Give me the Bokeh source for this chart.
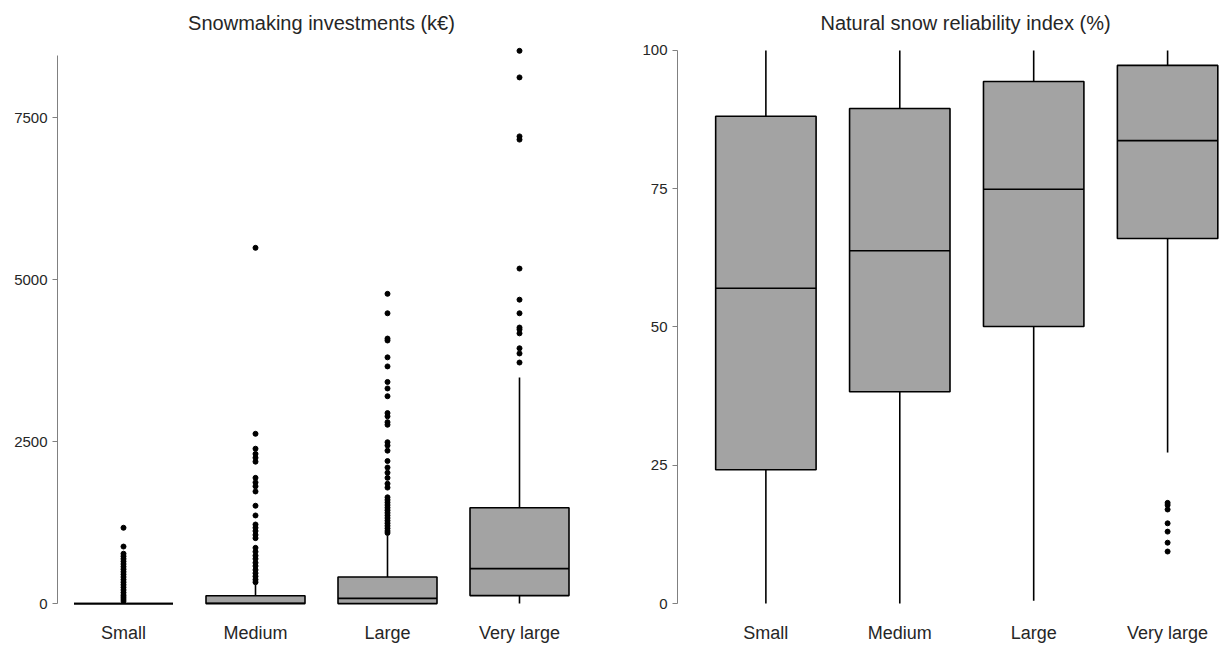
from bokeh.plotting import figure
from bokeh.models import Range1d, FixedTicker, Title
from bokeh.layouts import row
from bokeh.embed import file_html
from bokeh.resources import INLINE

# ---------------- data ----------------
categories = ["Small", "Medium", "Large", "Very large"]

# Snowmaking investments (k€)
inv_lo = [0, 0, 0, 0]
inv_q1 = [0, 0, 0, 123]
inv_med = [0, 5, 80, 540]
inv_q3 = [0, 120, 410, 1480]
inv_hi = [0, 290, 1050, 3490]
inv_out_small = [1170, 880, 770, 730, 690, 650, 610, 570, 530, 490, 450, 410,
                 370, 330, 290, 250, 210, 170, 130, 100, 70, 40]
inv_out_medium = [5490, 2620, 2390, 2310, 2250, 2190, 1940, 1870, 1810, 1730,
                  1510, 1360, 1220, 1170, 1120, 1060, 1010, 860, 800, 740, 690,
                  630, 580, 520, 470, 420, 370, 330]
inv_out_large = [4780, 4480, 4090, 4060, 3800, 3660, 3420, 3320, 3200, 2940,
                 2890, 2800, 2760, 2490, 2440, 2360, 2200, 2100, 2020, 1940,
                 1850, 1790, 1640, 1600, 1560, 1520, 1480, 1440, 1400, 1360,
                 1320, 1280, 1240, 1200, 1160, 1120, 1090]
inv_out_vlarge = [8530, 8120, 7210, 7160, 5170, 4690, 4480, 4260, 4230, 4170,
                  3940, 3860, 3720]
inv_ticks = [0, 2500, 5000, 7500]

# Natural snow reliability index (%)
rel_lo = [0, 0, 0.5, 27.3]
rel_q1 = [24.2, 38.3, 50.1, 66.0]
rel_med = [57.0, 63.8, 74.9, 83.7]
rel_q3 = [88.1, 89.5, 94.4, 97.3]
rel_hi = [100, 100, 100, 100]
rel_out_small = []
rel_out_medium = []
rel_out_large = []
rel_out_vlarge = [18.2, 17.8, 17.0, 14.5, 13.0, 11.0, 9.4]
rel_ticks = [0, 25, 50, 75, 100]

FONT = "Liberation Sans"
TXT = "#262626"
AXC = "#808080"
FILL = "#A3A3A3"
BOXW = 0.75


def boxplot(p, lo, q1, med, q3, hi, outliers):
    xs = [i + 1 for i in range(len(categories))]
    p.segment(x0=xs, y0=q3, x1=xs, y1=hi, line_color="black", line_width=1.6)
    p.segment(x0=xs, y0=lo, x1=xs, y1=q1, line_color="black", line_width=1.6)
    p.quad(left=[x - BOXW / 2 for x in xs], right=[x + BOXW / 2 for x in xs],
           bottom=q1, top=q3, fill_color=FILL, line_color="black", line_width=1.6)
    p.segment(x0=[x - BOXW / 2 for x in xs], y0=med, x1=[x + BOXW / 2 for x in xs],
              y1=med, line_color="black", line_width=1.6)
    ox, oy = [], []
    for i, vals in enumerate(outliers):
        ox += [xs[i]] * len(vals)
        oy += vals
    p.scatter(ox, oy, size=5, color="black")


def style(p, yticks, ybounds):
    p.outline_line_color = None
    p.xgrid.visible = False
    p.ygrid.visible = False
    p.background_fill_color = "white"
    p.border_fill_color = "white"
    xa = p.xaxis[0]
    xa.ticker = FixedTicker(ticks=[1, 2, 3, 4])
    xa.major_label_overrides = {i + 1: c for i, c in enumerate(categories)}
    xa.axis_line_color = None
    xa.major_tick_line_color = None
    xa.major_tick_out = 0
    xa.major_tick_in = 0
    xa.minor_tick_line_color = None
    xa.major_label_text_font = FONT
    xa.major_label_text_font_size = "18px"
    xa.major_label_text_color = TXT
    xa.major_label_standoff = 16
    ya = p.yaxis[0]
    ya.ticker = FixedTicker(ticks=yticks)
    ya.bounds = ybounds
    ya.axis_line_color = AXC
    ya.axis_line_width = 1
    ya.major_tick_line_color = AXC
    ya.major_tick_out = 5
    ya.major_tick_in = 0
    ya.minor_tick_line_color = None
    ya.major_label_text_font = FONT
    ya.major_label_text_font_size = "15px"
    ya.major_label_text_color = TXT
    ya.major_label_standoff = 5


p1 = figure(width=600, height=646, x_range=Range1d(0.5, 4.5),
            y_range=Range1d(-45, 8597), output_backend="svg",
            toolbar_location=None, min_border_left=57, min_border_right=15,
            min_border_top=46, min_border_bottom=40)
style(p1, inv_ticks, (0, 8460))
boxplot(p1, inv_lo, inv_q1, inv_med, inv_q3, inv_hi,
        [inv_out_small, inv_out_medium, inv_out_large, inv_out_vlarge])
p1.add_layout(Title(text="Snowmaking investments (k€)", align="center",
                    vertical_align="top",
                    text_font=FONT, text_font_size="20px",
                    text_font_style="normal", text_color=TXT, standoff=22),
              "above")

p2 = figure(width=622, height=646, x_range=Range1d(0.34, 4.41),
            y_range=Range1d(-0.54, 100.72), output_backend="svg",
            toolbar_location=None, min_border_left=77, min_border_right=0,
            min_border_top=46, min_border_bottom=40)
style(p2, rel_ticks, (0, 100))
boxplot(p2, rel_lo, rel_q1, rel_med, rel_q3, rel_hi,
        [rel_out_small, rel_out_medium, rel_out_large, rel_out_vlarge])
p2.add_layout(Title(text="Natural snow reliability index (%)", align="left",
                    vertical_align="top",
                    offset=143, text_font=FONT, text_font_size="20px",
                    text_font_style="normal", text_color=TXT, standoff=22),
              "above")

layout = row(p1, p2)
open("out.html", "w").write(file_html(layout, INLINE))
